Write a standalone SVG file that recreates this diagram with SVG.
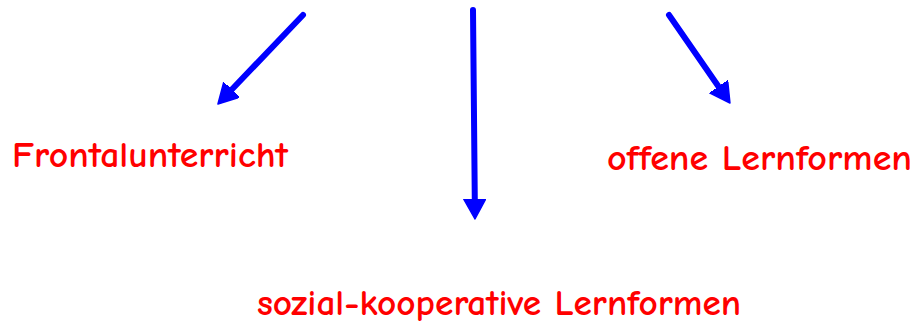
<svg xmlns="http://www.w3.org/2000/svg" width="916" height="325" viewBox="0 0 916 325">
<style>
.conn{stroke:#0000ff;stroke-width:6;stroke-linecap:round;fill:none}
.lbl{fill:#ff0000;font-family:"Comic Neue","DejaVu Sans","Liberation Sans",sans-serif;font-size:37px;font-weight:bold}
</style>
<defs>
<marker id="ah" markerUnits="userSpaceOnUse" markerWidth="24" markerHeight="24" refX="2" refY="11" orient="auto" viewBox="0 0 24 24">
<path d="M0,0 L20,11 L0,22 Z" fill="#0000ff" stroke="#0000ff" stroke-width="1.5" stroke-linejoin="round"/>
</marker>
</defs>
<rect width="916" height="325" fill="#ffffff"/>
<g id="connectors">
<line class="conn" x1="303" y1="15" x2="230.4" y2="91" marker-end="url(#ah)"/>
<line class="conn" x1="473" y1="10" x2="474.8" y2="201" marker-end="url(#ah)"/>
<line class="conn" x1="669" y1="15" x2="719.7" y2="88.2" marker-end="url(#ah)"/>
</g>
<g id="frontal"><text class="lbl" x="12" y="167" textLength="276" lengthAdjust="spacingAndGlyphs">Frontalunterricht</text></g>
<g id="offen"><text class="lbl" x="607" y="170" textLength="305" lengthAdjust="spacingAndGlyphs">offene Lernformen</text></g>
<g id="sozial"><text class="lbl" x="257" y="315" textLength="484" lengthAdjust="spacingAndGlyphs">sozial-kooperative Lernformen</text></g>
</svg>
